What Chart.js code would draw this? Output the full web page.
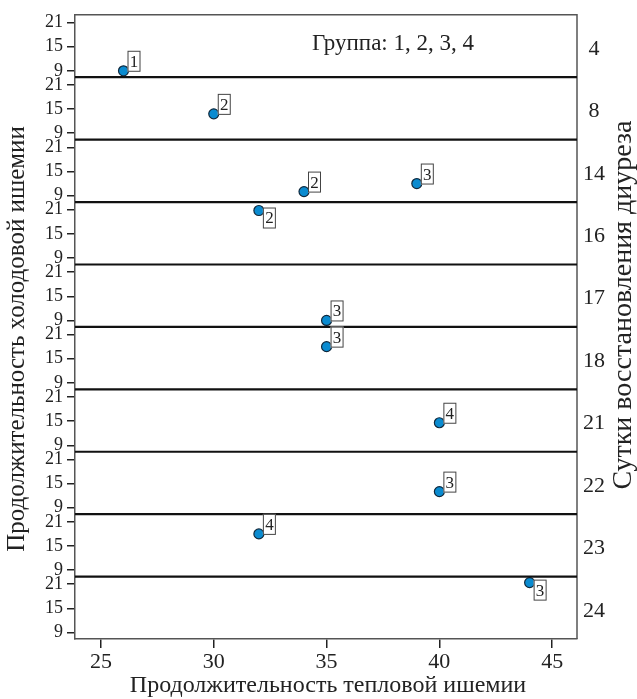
<!DOCTYPE html>
<html>
<head>
<meta charset="utf-8">
<script src="https://cdn.jsdelivr.net/npm/chart.js@4"></script>
<style>
	body { margin: 0; background: #fff; }
	canvas { display: block; }
</style>
</head>
<body>
<canvas id="chart" width="637" height="699"></canvas>
<script>
// Data
const days = ['4', '8', '14', '16', '17', '18', '21', '22', '23', '24']; // right side labels, one per panel
const heatIschemia = [[26], [30], [34, 39], [32], [35], [35], [40], [40], [32], [44]];
const coldIschemia = [[9], [13.8], [10, 12], [20.8], [9], [18], [14.6], [13], [18], [21.4]];
const groups = [[1], [2], [2, 3], [2], [3], [3], [4], [3], [4], [3]];
const xTicks = [25, 30, 35, 40, 45];
const yTicks = [9, 15, 21];

const serif = "'Liberation Serif', 'DejaVu Serif', serif";

const scales = {
	x: {
		type: 'linear',
		position: 'bottom',
		min: 23.85,
		max: 46.1,
		afterBuildTicks: (s) => { s.ticks = xTicks.map((v) => ({ value: v })); },
		afterFit: (s) => { s.height = 60; },
		grid: { display: true, drawOnChartArea: false, drawTicks: true, tickLength: 9, color: '#222', lineWidth: 1.5 },
		border: { display: true, color: '#555', width: 1.5 },
		ticks: { font: { family: serif, size: 22 }, color: '#222', padding: 1 },
	},
};

days.forEach((d, i) => {
	scales['y' + i] = {
		type: 'linear',
		position: 'left',
		stack: 'panels',
		stackWeight: 1,
		weight: days.length - i,
		min: 7.4,
		max: 22.9,
		afterBuildTicks: (s) => { s.ticks = yTicks.map((v) => ({ value: v })); },
		afterFit: (s) => { s.width = 45; },
		grid: { display: true, drawOnChartArea: false, drawTicks: true, tickLength: 8, color: '#222', lineWidth: 1.5 },
		border: { display: true, color: '#555', width: 1.5 },
		ticks: { font: { family: serif, size: 18 }, color: '#222', padding: 4, autoSkip: false },
	};
});

const datasets = days.map((d, i) => ({
	label: d,
	yAxisID: 'y' + i,
	data: heatIschemia[i].map((x, j) => ({ x: x, y: coldIschemia[i][j], g: groups[i][j] })),
	pointRadius: 5,
	pointHoverRadius: 5,
	pointBackgroundColor: '#0a8bd0',
	pointBorderColor: '#10293d',
	pointBorderWidth: 1.2,
	showLine: false,
}));

// panel lines, boxed group labels, side texts
const decor = {
	id: 'decor',
	afterDatasetsDraw(chart) {
		const ctx = chart.ctx;
		const a = chart.chartArea;
		ctx.save();

		// frame top / right
		ctx.strokeStyle = '#555';
		ctx.lineWidth = 1.5;
		ctx.beginPath();
		ctx.moveTo(a.left, a.top);
		ctx.lineTo(a.right, a.top);
		ctx.lineTo(a.right, a.bottom);
		ctx.stroke();

		// separators between panels + day labels
		days.forEach((d, i) => {
			const s = chart.scales['y' + i];
			if (i < days.length - 1) {
				ctx.strokeStyle = '#111';
				ctx.lineWidth = 2.2;
				ctx.beginPath();
				ctx.moveTo(a.left, s.bottom);
				ctx.lineTo(a.right, s.bottom);
				ctx.stroke();
			}
			ctx.fillStyle = '#222';
			ctx.font = '22px ' + serif;
			ctx.textAlign = 'center';
			ctx.textBaseline = 'middle';
			ctx.fillText(d, a.right + 17, (s.top + s.bottom) / 2 + 3);
		});

		// boxed group numbers
		ctx.font = '17px ' + serif;
		chart.data.datasets.forEach((ds, di) => {
			const meta = chart.getDatasetMeta(di);
			meta.data.forEach((pt, j) => {
				const below = ds.data[j].y > 20;
				const bx = pt.x + 4;
				const by = below ? pt.y - 3 : pt.y + 1 - 21;
				ctx.fillStyle = '#fff';
				ctx.fillRect(bx, by, 13, 21);
				ctx.strokeStyle = '#444';
				ctx.lineWidth = 1;
				ctx.strokeRect(bx + 0.5, by + 0.5, 12, 20);
				ctx.fillStyle = '#222';
				ctx.textAlign = 'center';
				ctx.textBaseline = 'middle';
				ctx.fillText(String(ds.data[j].g), bx + 6.5, by + 11.5);
			});
		});

		// legend-like note
		ctx.font = '23px ' + serif;
		ctx.textAlign = 'left';
		ctx.textBaseline = 'middle';
		ctx.fillText('Группа: 1, 2, 3, 4', a.left + 237, a.top + 29);

		// axis titles
		ctx.textAlign = 'center';
		ctx.font = '24px ' + serif;
		ctx.fillText('Продолжительность тепловой ишемии', (a.left + a.right) / 2 + 2, 686);

		ctx.save();
		ctx.font = '25px ' + serif;
		ctx.translate(17, 339);
		ctx.rotate(-Math.PI / 2);
		ctx.fillText('Продолжительность холодовой ишемии', 0, 0);
		ctx.restore();

		ctx.save();
		ctx.font = '28px ' + serif;
		ctx.translate(624, 305);
		ctx.rotate(-Math.PI / 2);
		ctx.fillText('Сутки восстановления диуреза', 0, 0);
		ctx.restore();

		ctx.restore();
	},
};

new Chart(document.getElementById('chart'), {
	type: 'scatter',
	data: { datasets: datasets },
	options: {
		responsive: false,
		animation: false,
		layout: { padding: { left: 30, right: 60, top: 13, bottom: 0 } },
		scales: scales,
		plugins: {
			legend: { display: false },
			tooltip: { enabled: false },
		},
	},
	plugins: [decor],
});
</script>
</body>
</html>
